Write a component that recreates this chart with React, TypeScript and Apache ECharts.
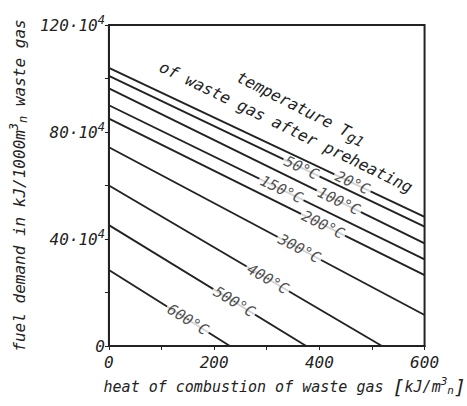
import React, { useEffect, useRef } from 'react';
import * as echarts from 'echarts';

const temperatures = ['20°C', '50°C', '100°C', '150°C', '200°C', '300°C', '400°C', '500°C', '600°C'];
const startDemand = [104, 101, 96.3, 90, 85, 74.3, 60, 45.2, 28.4];
const endHeat = [600, 600, 600, 600, 600, 600, 519, 375, 230];
const endDemand = [48.3, 44.6, 38.4, 32.4, 26.5, 11.6, 0, 0, 0];
const labelHeat = [463, 366, 437, 328, 407, 362, 302, 238, 150];

const FONT = '"DejaVu Sans Mono", "Liberation Mono", monospace';
const INK = '#222222';

const GRID = { left: 105, top: 25, width: 320, height: 321 };
const X_MAX = 600;
const Y_MAX = 120;

export default function App() {
  const ref = useRef<HTMLDivElement>(null);

  useEffect(() => {
    if (!ref.current) return;
    const chart = echarts.init(ref.current, undefined, { renderer: 'svg' });
    const pxX = GRID.width / X_MAX;
    const pxY = GRID.height / Y_MAX;

    const lineSeries = temperatures.map((t, i) => ({
      type: 'line',
      name: t,
      data: [
        [0, startDemand[i]],
        [endHeat[i], endDemand[i]],
      ],
      symbol: 'none',
      silent: true,
      lineStyle: { color: INK, width: 1.9 },
      z: 2,
    }));

    const labelData = temperatures.map((t, i) => {
      const slope = (endDemand[i] - startDemand[i]) / endHeat[i];
      const y = startDemand[i] + slope * labelHeat[i];
      const angle = (Math.atan((-slope * pxY) / pxX) * 180) / Math.PI;
      return {
        value: [labelHeat[i], y],
        label: {
          show: true,
          formatter: t,
          rotate: -angle,
        },
      };
    });

    chart.setOption({
      animation: false,
      backgroundColor: '#ffffff',
      grid: {
        ...GRID,
        show: true,
        borderColor: INK,
        borderWidth: 2,
        containLabel: false,
      },
      xAxis: {
        type: 'value',
        min: 0,
        max: X_MAX,
        interval: 200,
        name: 'heat of combustion of waste gas {br|[}kJ/m{sup|3}{sub|n}{br|]}',
        nameLocation: 'middle',
        nameGap: 30,
        nameTextStyle: {
          fontFamily: FONT,
          fontStyle: 'italic',
          fontSize: 15,
          color: INK,
          padding: [0, 0, 0, 36],
          rich: {
            br: { fontFamily: FONT, fontStyle: 'italic', fontSize: 20, color: INK },
            sup: { fontFamily: FONT, fontStyle: 'italic', fontSize: 11, color: INK, padding: [0, 0, 10, 0] },
            sub: { fontFamily: FONT, fontStyle: 'italic', fontSize: 11, color: INK, padding: [8, 0, 0, 0] },
          },
        },
        axisLine: { show: true, lineStyle: { color: INK, width: 2 } },
        axisTick: { show: true, inside: false, length: 4, lineStyle: { color: INK, width: 1 } },
        minorTick: { show: true, splitNumber: 2, length: 4, lineStyle: { color: INK, width: 1 } },
        splitLine: { show: false },
        axisLabel: {
          margin: 8,
          fontFamily: FONT,
          fontStyle: 'italic',
          fontSize: 16,
          color: INK,
        },
      },
      yAxis: {
        type: 'value',
        min: 0,
        max: Y_MAX,
        interval: 40,
        name: 'fuel demand in kJ/1000m{sup|3}{sub|n} waste gas',
        nameLocation: 'middle',
        nameRotate: 90,
        nameGap: 57,
        nameTextStyle: {
          fontFamily: FONT,
          fontStyle: 'italic',
          fontSize: 16,
          color: INK,
          rich: {
            sup: { fontFamily: FONT, fontStyle: 'italic', fontSize: 12, color: INK, padding: [0, 0, 10, 0] },
            sub: { fontFamily: FONT, fontStyle: 'italic', fontSize: 12, color: INK, padding: [8, 0, 0, 0] },
          },
        },
        axisLine: { show: true, lineStyle: { color: INK, width: 2 } },
        axisTick: { show: true, inside: false, length: 4, lineStyle: { color: INK, width: 1 } },
        minorTick: { show: true, splitNumber: 2, length: 4, lineStyle: { color: INK, width: 1 } },
        splitLine: { show: false },
        axisLabel: {
          margin: 4,
          fontFamily: FONT,
          fontStyle: 'italic',
          fontSize: 16,
          color: INK,
          formatter: (v: number) => (v === 0 ? '0' : `${v}·10{sup|4}`),
          rich: {
            sup: { fontFamily: FONT, fontStyle: 'italic', fontSize: 12, color: INK, padding: [0, 0, 11, 0] },
          },
        },
      },
      series: [
        ...lineSeries,
        {
          type: 'scatter',
          data: labelData,
          symbolSize: 0,
          silent: true,
          z: 5,
          label: {
            show: true,
            position: 'inside',
            fontFamily: FONT,
            fontStyle: 'italic',
            fontSize: 15,
            color: INK,
            backgroundColor: '#ffffff',
            padding: [0, 2],
            lineHeight: 14,
          },
        },
      ],
      graphic: [
        {
          type: 'text',
          x: 301,
          y: 108,
          rotation: (-27 * Math.PI) / 180,
          style: {
            text: 'temperature T{sub|g1}',
            font: `italic 16px ${FONT}`,
            fill: INK,
            align: 'center',
            verticalAlign: 'middle',
            rich: {
              sub: { fontFamily: FONT, fontStyle: 'italic', fontSize: 14, fill: INK, padding: [6, 0, 0, 0] },
            },
          },
        },
        {
          type: 'text',
          x: 286,
          y: 127,
          rotation: (-26 * Math.PI) / 180,
          style: {
            text: 'of waste gas after preheating',
            font: `italic 16px ${FONT}`,
            fill: INK,
            align: 'center',
            verticalAlign: 'middle',
          },
        },
      ],
    });

    return () => chart.dispose();
  }, []);

  return (
    <div
      ref={ref}
      style={{ position: 'fixed', left: 0, top: 0, width: 467, height: 406 }}
    />
  );
}
